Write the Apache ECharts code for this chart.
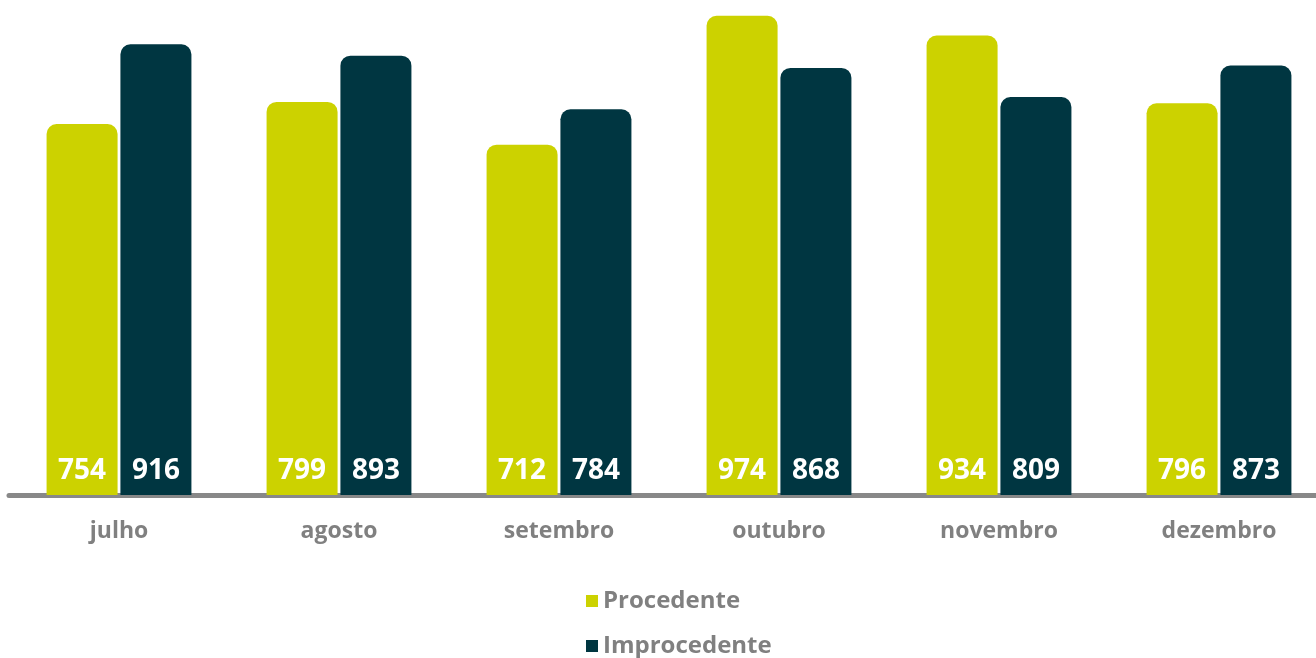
<!DOCTYPE html>
<html lang="pt">
<head>
    <meta charset="UTF-8">
    <title>Procedente x Improcedente</title>
    <style>
        html, body { margin: 0; padding: 0; background: #fff; }
        #chart { width: 1316px; height: 658px; }
    </style>
</head>
<body>
<div id="chart"></div>
<script src="https://cdn.jsdelivr.net/npm/echarts@6/dist/echarts.min.js"></script>
<script>
    var months = ['julho', 'agosto', 'setembro', 'outubro', 'novembro', 'dezembro'];
    var procedente = [754, 799, 712, 974, 934, 796];
    var improcedente = [916, 893, 784, 868, 809, 873];

    var fontName = '"Open Sans", "Noto Sans", sans-serif';

    var labelStyle = {
        show: true,
        position: 'insideBottom',
        distance: 10,
        color: '#fff',
        fontSize: 28,
        fontWeight: 'bold',
        fontFamily: fontName
    };

    var legendText = {
        color: '#808080',
        fontSize: 24,
        fontWeight: 'bold',
        fontFamily: fontName
    };

    var chart = echarts.init(document.getElementById('chart'));

    var option = {
        animation: false,
        grid: {
            left: 9,
            right: -13,
            top: 3,
            bottom: 163,
            outerBoundsMode: 'none'
        },
        // one legend per row, stacked like the original
        legend: [
            {
                left: 581,
                top: 584,
                itemWidth: 12,
                itemHeight: 12,
                itemGap: 6,
                icon: 'rect',
                data: ['Procedente'],
                textStyle: legendText
            },
            {
                left: 581,
                top: 629,
                itemWidth: 12,
                itemHeight: 12,
                icon: 'rect',
                data: ['Improcedente'],
                textStyle: legendText
            }
        ],
        xAxis: {
            type: 'category',
            data: months,
            axisTick: { show: false },
            axisLine: { lineStyle: { color: '#888', width: 5 } },
            axisLabel: {
                margin: 25,
                color: '#808080',
                fontSize: 23,
                fontWeight: 'bold',
                fontFamily: fontName
            }
        },
        yAxis: {
            type: 'value',
            min: 0,
            max: 1000,
            show: false,
            splitLine: { show: false }
        },
        series: [
            {
                name: 'Procedente',
                type: 'bar',
                data: procedente,
                barWidth: 71,
                barGap: '4%',
                itemStyle: { color: '#ccd200', borderRadius: [10, 10, 0, 0] },
                label: labelStyle
            },
            {
                name: 'Improcedente',
                type: 'bar',
                data: improcedente,
                barWidth: 71,
                itemStyle: { color: '#003641', borderRadius: [10, 10, 0, 0] },
                label: labelStyle
            }
        ]
    };

    chart.setOption(option);
</script>
</body>
</html>
